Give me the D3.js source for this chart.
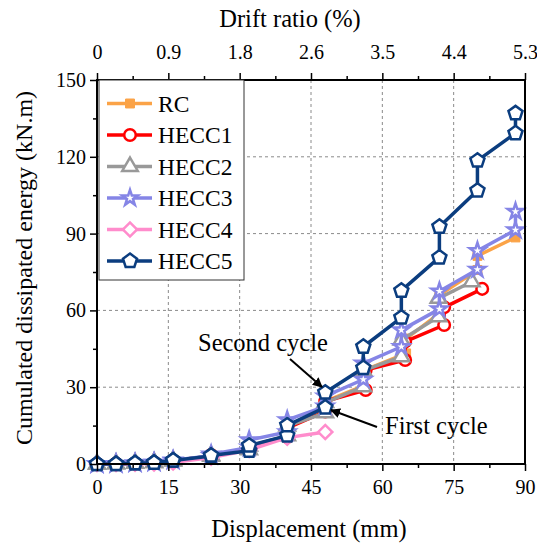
<!DOCTYPE html>
<html>
	<head>
		<meta charset="utf-8">
		<style type="text/css">
			body { margin: 0; background: white; }
			svg  { display: block; }
			svg text { font-family: "Liberation Serif", Tinos, "Times New Roman", "DejaVu Serif", serif; }
		</style>
		<title>Cumulated dissipated energy</title>
	</head>
	<body>
		<script src="https://cdn.jsdelivr.net/npm/d3@7"></script>
		<script>

// data /////////////////////////////////////////////////////////////////////

var series_names  = ['RC', 'HECC1', 'HECC2', 'HECC3', 'HECC4', 'HECC5'];
var series_colors = ['#fba347', '#ff0000', '#999999', '#8585e6', '#ff8ccc', '#0b3d7f'];

var rc_disp    = [0, 0, 4, 4, 8, 8, 12, 12, 16, 16, 24, 24, 32, 32, 40, 40, 48, 48, 56, 56, 65, 65, 72, 72, 80, 80, 88];
var rc_energy  = [0, 0, 0.1, 0.1, 0.3, 0.3, 0.6, 0.6, 1.2, 1.4, 3, 3.4, 5.5, 7, 11, 14.5, 20.5, 24.5, 30.5, 36.5, 43.2, 49, 58.8, 66, 75.8, 81.3, 88.5];

var h1_disp    = [0, 0, 4, 4, 8, 8, 12, 12, 16, 16, 24, 24, 32, 32, 40, 40, 48, 48, 56.5, 56.5, 64.8, 64.8, 73, 73, 81];
var h1_energy  = [0, 0, 0.1, 0.1, 0.3, 0.3, 0.6, 0.6, 1.2, 1.4, 3, 3.5, 5.5, 6.8, 10.5, 14, 20.5, 24.5, 28.9, 36.7, 40.6, 47.8, 54.3, 61.2, 68.4];

var h2_disp    = [0, 0, 4, 4, 8, 8, 12, 12, 16, 16, 24, 24, 32, 32, 40, 40, 48, 48, 56, 56, 64, 64, 71.8, 71.8, 78.8];
var h2_energy  = [0, 0, 0.1, 0.1, 0.3, 0.3, 0.6, 0.6, 1.2, 1.4, 3, 3.4, 5.6, 7, 11, 14.8, 20, 24, 30.2, 36.5, 41.9, 48.4, 57.5, 64.7, 71.2];

var h3_disp    = [0, 0, 4, 4, 8, 8, 12, 12, 16, 16, 24, 24, 32, 32, 40, 40, 48, 48, 56, 56, 64, 64, 72, 72, 80, 80, 88, 88];
var h3_energy  = [0, 0, 0.1, 0.1, 0.3, 0.3, 0.6, 0.6, 1.3, 1.5, 3.2, 3.8, 6.5, 9.4, 12.5, 17.2, 22.5, 26.5, 33, 39.3, 45.8, 52.3, 60.5, 67.5, 76, 83.3, 91.4, 98.6];

var h4_disp    = [0, 4, 8, 12, 16, 24, 32, 40, 48];
var h4_energy  = [0, 0, 0.1, 0.2, 0.6, 2.5, 5.5, 10.3, 12.5];

var h5_disp    = [0, 0, 4, 4, 8, 8, 12, 12, 16, 16, 24, 24, 32, 32, 40, 40, 48, 48, 56, 56, 64, 64, 72, 72, 80, 80, 88, 88];
var h5_energy  = [0, 0, 0, 0, 0.3, 0.3, 0.5, 0.5, 1.4, 1.4, 3.1, 3.3, 5.2, 7.2, 11.1, 15.1, 22.1, 27.9, 37.5, 45.8, 57.2, 67.7, 80.7, 92.7, 106.8, 118.5, 129.2, 137];

var disp_ticks    = [0, 15, 30, 45, 60, 75, 90];
var drift_labels  = ['0', '0.9', '1.8', '2.6', '3.5', '4.4', '5.3'];
var energy_ticks  = [0, 30, 60, 90, 120, 150];

var all_disp   = [rc_disp, h1_disp, h2_disp, h3_disp, h4_disp, h5_disp];
var all_energy = [rc_energy, h1_energy, h2_energy, h3_energy, h4_energy, h5_energy];

var data = series_names.map((name, i) => ({
	name:   name,
	color:  series_colors[i],
	points: all_disp[i].map((d, j) => ({x: d, y: all_energy[i][j]})),
}));


// layout ///////////////////////////////////////////////////////////////////

var W = 537, H = 549;
var margin = {top: 80, right: 12, bottom: 85, left: 97},
    width  = W - margin.left - margin.right,
    height = H - margin.top - margin.bottom;

var svg = d3.select('body').append('svg')
	.attr('width', W)
	.attr('height', H);

var plot = svg.append('g')
	.attr('transform', `translate(${margin.left},${margin.top})`);

var x = d3.scaleLinear().domain([0, 90]).range([0, width]);
var y = d3.scaleLinear().domain([0, 150]).range([height, 0]);

var minor = (ticks) => d3.pairs(ticks).map(p => (p[0] + p[1]) / 2);


// grid /////////////////////////////////////////////////////////////////////

var grid = plot.append('g')
	.attr('stroke', '#8a8a8a')
	.attr('stroke-width', 1)
	.attr('stroke-dasharray', '3,3');
grid.selectAll('.vx')
	.data(disp_ticks.slice(1, -1))
	.join('line')
		.attr('x1', d => x(d)).attr('x2', d => x(d))
		.attr('y1', 0).attr('y2', height);
grid.selectAll('.hy')
	.data(energy_ticks.slice(1, -1))
	.join('line')
		.attr('x1', 0).attr('x2', width)
		.attr('y1', d => y(d)).attr('y2', d => y(d));


// series ///////////////////////////////////////////////////////////////////

var pentagon = {
	draw(ctx, size) {
		var r = Math.sqrt(size / 2.378);
		for (var i = 0; i < 5; i++) {
			var a = -Math.PI / 2 + i * 2 * Math.PI / 5;
			if (i == 0) ctx.moveTo(r * Math.cos(a), r * Math.sin(a));
			else ctx.lineTo(r * Math.cos(a), r * Math.sin(a));
		}
		ctx.closePath();
	}
};

var markers = {
	RC:    {type: d3.symbolSquare,   size: 80,  fill: true,  rotate: 0},
	HECC1: {type: d3.symbolCircle,   size: 105, fill: false, rotate: 0},
	HECC2: {type: d3.symbolTriangle, size: 105, fill: false, rotate: 0},
	HECC3: {type: d3.symbolStar,     size: 75,  fill: false, rotate: 0},
	HECC4: {type: d3.symbolSquare,   size: 100, fill: false, rotate: 45},
	HECC5: {type: pentagon,          size: 130, fill: false, rotate: 0},
};

function draw_marker(sel, s) {
	var m = markers[s.name];
	sel.append('path')
		.attr('d', d3.symbol().type(m.type).size(m.size)())
		.attr('transform', d => `translate(${d[0]},${d[1]}) rotate(${m.rotate})`)
		.attr('fill', m.fill ? s.color : 'white')
		.attr('stroke', s.color)
		.attr('stroke-width', m.fill ? 1 : 2.5);
}

var line = d3.line()
	.x(d => x(d.x))
	.y(d => y(d.y));

var lines = plot.append('g');
data.forEach(s => {
	var g = lines.append('g');
	g.append('path')
		.attr('d', line(s.points))
		.attr('fill', 'none')
		.attr('stroke', s.color)
		.attr('stroke-width', 3.5)
		.attr('stroke-linejoin', 'round');
	g.selectAll('.pt')
		.data(s.points.map(p => [x(p.x), y(p.y)]))
		.join('g')
			.each(function() { draw_marker(d3.select(this), s); });
});


// axes /////////////////////////////////////////////////////////////////////

function style_axis(g) {
	g.attr('font-family', null);
	g.select('.domain').remove();
	g.selectAll('.tick line').attr('stroke', 'black').attr('stroke-width', 1.5);
	g.selectAll('.tick text')
		.attr('font-size', 20)
		.attr('fill', 'black');
}

plot.append('g')
	.attr('transform', `translate(0,${height})`)
	.call(d3.axisBottom(x).tickValues(disp_ticks).tickSize(7).tickPadding(9))
	.call(style_axis);
plot.append('g')
	.attr('transform', `translate(0,${height})`)
	.call(d3.axisBottom(x).tickValues(minor(disp_ticks)).tickSize(4).tickFormat(''))
	.call(style_axis);

plot.append('g')
	.call(d3.axisTop(x).tickValues(disp_ticks).tickSize(7).tickPadding(14)
		.tickFormat((d, i) => drift_labels[i]))
	.call(style_axis);
plot.append('g')
	.call(d3.axisTop(x).tickValues(minor(disp_ticks)).tickSize(4).tickFormat(''))
	.call(style_axis);

plot.append('g')
	.call(d3.axisLeft(y).tickValues(energy_ticks).tickSize(7).tickPadding(4))
	.call(style_axis);
plot.append('g')
	.call(d3.axisLeft(y).tickValues(minor(energy_ticks)).tickSize(4).tickFormat(''))
	.call(style_axis);

plot.append('rect')
	.attr('width', width).attr('height', height)
	.attr('fill', 'none')
	.attr('stroke', 'black')
	.attr('stroke-width', 2);

svg.append('text')
	.attr('x', 290).attr('y', 27)
	.attr('text-anchor', 'middle')
	.attr('font-size', 24.5)
	.text('Drift ratio (%)');

svg.append('text')
	.attr('x', 309).attr('y', 537)
	.attr('text-anchor', 'middle')
	.attr('font-size', 24.5)
	.text('Displacement (mm)');

svg.append('text')
	.attr('transform', `translate(32,${margin.top + height / 2 - 4}) rotate(-90)`)
	.attr('text-anchor', 'middle')
	.attr('font-size', 24)
	.text('Cumulated dissipated energy (kN.m)');


// annotations //////////////////////////////////////////////////////////////

svg.append('defs').append('marker')
	.attr('id', 'head')
	.attr('viewBox', '0 0 10 10')
	.attr('refX', 9).attr('refY', 5)
	.attr('markerWidth', 5).attr('markerHeight', 5)
	.attr('orient', 'auto')
	.append('path')
		.attr('d', 'M0,0 L10,5 L0,10 Z')
		.attr('fill', 'black');

var notes = [
	{text: 'Second cycle', tx: 198, ty: 351, x1: 290, y1: 359, x2: 322, y2: 387},
	{text: 'First cycle',  tx: 385, ty: 434, x1: 377, y1: 427, x2: 331, y2: 410},
];
notes.forEach(n => {
	svg.append('text')
		.attr('x', n.tx).attr('y', n.ty)
		.attr('font-size', 24.5)
		.text(n.text);
	svg.append('line')
		.attr('x1', n.x1).attr('y1', n.y1)
		.attr('x2', n.x2).attr('y2', n.y2)
		.attr('stroke', 'black')
		.attr('stroke-width', 2)
		.attr('marker-end', 'url(#head)');
});


// legend ///////////////////////////////////////////////////////////////////

var legend = plot.append('g')
	.attr('transform', 'translate(2,0)');
legend.append('rect')
	.attr('width', 145).attr('height', 200)
	.attr('fill', 'white')
	.attr('stroke', '#333')
	.attr('stroke-width', 1);

data.forEach((s, i) => {
	var row = legend.append('g')
		.attr('transform', `translate(0,${23.5 + i * 31.5})`);
	row.append('line')
		.attr('x1', 8).attr('x2', 53)
		.attr('stroke', s.color)
		.attr('stroke-width', 3.5);
	row.selectAll('.m')
		.data([[31, 0]])
		.join('g')
			.each(function() { draw_marker(d3.select(this), s); });
	row.append('text')
		.attr('x', 59).attr('y', 8)
		.attr('font-size', 23.5)
		.text(s.name);
});

		</script>
	</body>
</html>
